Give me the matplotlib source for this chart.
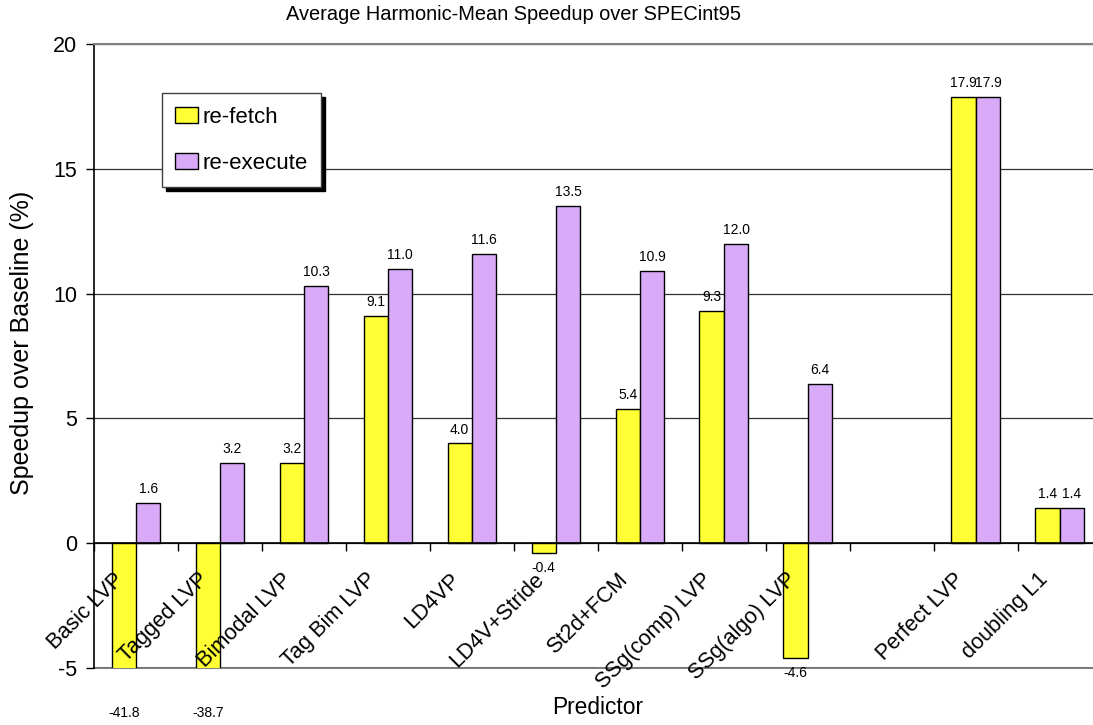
import matplotlib.pyplot as plt
import numpy as np
from matplotlib.transforms import ScaledTranslation
from matplotlib.legend_handler import HandlerPatch
from matplotlib.patches import Rectangle

plt.rcParams['font.family'] = ['Liberation Sans', 'DejaVu Sans']
plt.rcParams['axes.unicode_minus'] = False

# predictors along the x axis (one empty slot separates the reference runs)
predictors = ['Basic LVP', 'Tagged LVP', 'Bimodal LVP', 'Tag Bim LVP', 'LD4VP',
              'LD4V+Stride', 'St2d+FCM', 'SSg(comp) LVP', 'SSg(algo) LVP', '',
              'Perfect LVP', 'doubling L1']
refetch = [-41.8, -38.7, 3.2, 9.1, 4.0, -0.4, 5.4, 9.3, -4.6, np.nan, 17.9, 1.4]
reexecute = [1.6, 3.2, 10.3, 11.0, 11.6, 13.5, 10.9, 12.0, 6.4, np.nan, 17.9, 1.4]

ymin, ymax = -5, 20
yellow = '#ffff33'
lilac = '#d8aaf8'


class SquareHandler(HandlerPatch):
    """Legend key drawn as a small square pushed to the right of its slot."""

    def create_artists(self, legend, orig_handle, xdescent, ydescent, width,
                       height, fontsize, trans):
        side = 0.7 * fontsize
        p = Rectangle((width - xdescent - side, -ydescent + (height - side) / 2),
                      side, side, facecolor=orig_handle.get_facecolor(),
                      edgecolor='black', lw=1.0, transform=trans)
        return [p]


fig = plt.figure(figsize=(10.93, 7.25), dpi=100)
ax = fig.add_axes([0.086, 0.0786, 0.922, 0.8604])

x = np.arange(len(predictors))
w = 0.29
ax.bar(x - w / 2, refetch, w, color=yellow, edgecolor='black', lw=1.0,
       label='re-fetch', zorder=3)
ax.bar(x + w / 2, reexecute, w, color=lilac, edgecolor='black', lw=1.0,
       label='re-execute', zorder=3)

# value labels above positive bars, below negative ones
for xs, vals in ((x - w / 2, refetch), (x + w / 2, reexecute)):
    for xi, v in zip(xs, vals):
        if np.isnan(v):
            continue
        if v >= 0:
            ax.annotate(f'{v:.1f}', (xi, v), xytext=(0, 5), textcoords='offset points',
                        ha='center', va='bottom', fontsize=10)
        elif v > ymin:
            ax.annotate(f'{v:.1f}', (xi, v), xytext=(0, -5.5), textcoords='offset points',
                        ha='center', va='top', fontsize=10, zorder=5)
        else:
            # bar runs off the bottom of the plot: label sits under the axis
            ax.text(xi, ymin - 1.8, f'{v:.1f}', ha='center', va='center',
                    fontsize=10, clip_on=False)

ax.set_ylim(ymin, ymax)
ax.set_xlim(-0.5, len(predictors) - 0.5)
ax.set_yticks(np.arange(ymin, ymax + 1, 5))
ax.tick_params(axis='y', labelsize=15.5, length=6, width=1, direction='out', pad=6)

# category axis sits on the zero line, tick marks between categories
ax.spines['bottom'].set_position(('data', 0))
ax.spines['bottom'].set_linewidth(1.2)
ax.spines['bottom'].set_zorder(4)
ax.spines['left'].set_linewidth(1.2)
ax.spines['right'].set_visible(False)
ax.spines['top'].set_color('#808080')
ax.spines['top'].set_linewidth(1.5)
ax.set_xticks(np.arange(len(predictors) + 1) - 0.5)
ax.set_xticklabels([])
ax.tick_params(axis='x', which='major', length=6, width=1, direction='out')

# rotated category names, drawn over the bars
name_offset = ScaledTranslation(-0.15, -0.33, fig.dpi_scale_trans)
for xi, name in zip(x, predictors):
    ax.text(xi, 0, name, transform=ax.transData + name_offset, rotation=45,
            rotation_mode='anchor', ha='right', va='center', fontsize=15.7,
            zorder=6)

ax.grid(axis='y', color='#303030', lw=0.9, zorder=0)
ax.axhline(ymin, color='#808080', lw=1.5, zorder=1, clip_on=False)

fig.text(513.5 / 1093, 1 - 15 / 725, 'Average Harmonic-Mean Speedup over SPECint95',
         ha='center', va='center', fontsize=14.4)
fig.text(22 / 1093, 1 - 343 / 725, 'Speedup over Baseline (%)', rotation=90,
         ha='center', va='center', fontsize=18)
fig.text(598 / 1093, 1 - 708 / 725, 'Predictor', ha='center', va='center',
         fontsize=16.4)

leg = ax.legend(loc='upper left', bbox_to_anchor=(0.0675, 0.9215), fontsize=16,
                frameon=True, fancybox=False, edgecolor='#404040', framealpha=1,
                shadow={'color': 'black', 'alpha': 1, 'ox': 3, 'oy': -3},
                handler_map={Rectangle: SquareHandler()},
                handlelength=1.0, handleheight=0.7, handletextpad=0.2,
                labelspacing=1.13, borderpad=0.6, borderaxespad=0)
leg.set_zorder(7)

fig.savefig('out.png', dpi=100)
